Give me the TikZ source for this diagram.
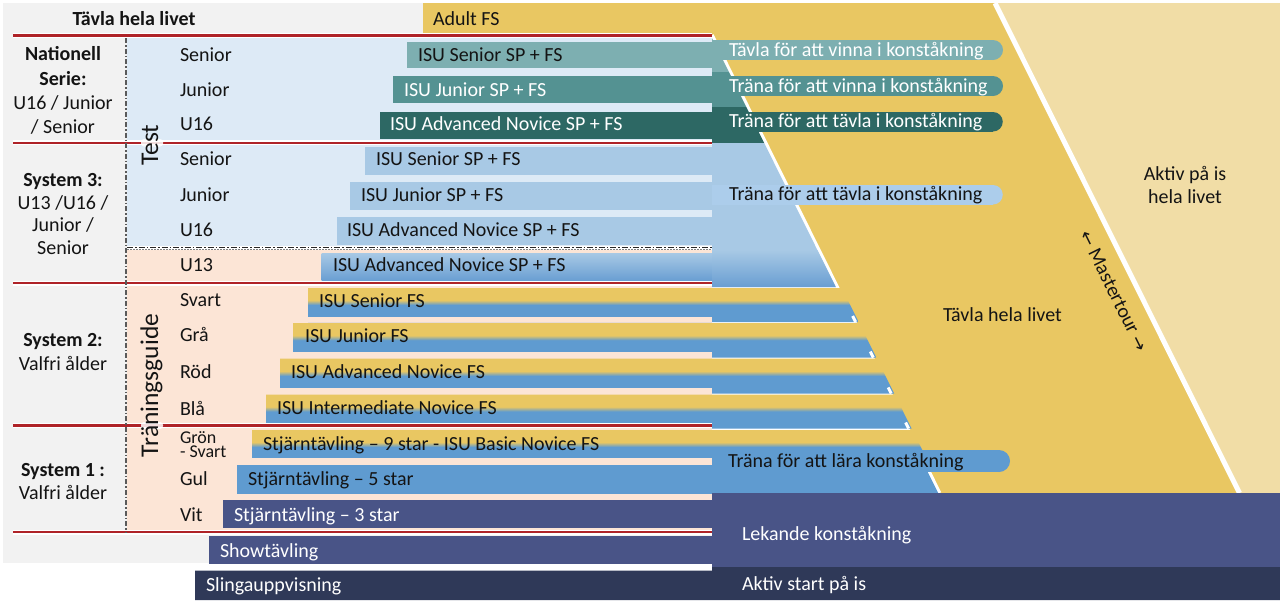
\documentclass[tikz,border=0pt]{standalone}
\usepackage{fontspec}
\setmainfont{Carlito}
\newfontfamily\arrowfont{DejaVu Sans}
\definecolor{cgold}{RGB}{233,199,98}
\definecolor{ctan}{RGB}{241,221,166}
\definecolor{cgray}{RGB}{242,242,242}
\definecolor{clbg}{RGB}{221,234,246}
\definecolor{cpeach}{RGB}{252,229,214}
\definecolor{cteala}{RGB}{125,175,177}
\definecolor{ctealb}{RGB}{84,146,146}
\definecolor{ctealc}{RGB}{45,104,100}
\definecolor{clb}{RGB}{168,201,229}
\definecolor{cpillb}{RGB}{172,205,235}
\definecolor{cblue}{RGB}{95,155,208}
\definecolor{cmb}{RGB}{105,158,210}
\definecolor{cnavy}{RGB}{73,84,135}
\definecolor{cdnavy}{RGB}{47,57,88}
\definecolor{cred}{RGB}{175,35,40}
\definecolor{cdash}{RGB}{90,90,90}
\definecolor{ctext}{RGB}{20,20,20}
\pgfdeclareverticalshading{goldblue}{100bp}{color(0bp)=(cblue); color(50bp)=(cblue); color(57bp)=(cgold); color(100bp)=(cgold)}
\newcommand\slx[1]{712+0.497*(#1-35)}
\begin{document}
\begin{tikzpicture}[x=1pt,y=-1pt,
  every node/.style={inner sep=0pt,outer sep=0pt,text=ctext},
  lbl/.style={font=\fontsize{20}{24}\selectfont, anchor=base west},
  lblw/.style={lbl, text=white},
  lblc/.style={font=\fontsize{20}{24}\selectfont, anchor=base},
  lblb/.style={font=\fontsize{20}{24}\selectfont\bfseries, anchor=base},
  lbls/.style={font=\fontsize{18}{20}\selectfont, anchor=base west},
  rotlbl/.style={font=\fontsize{25.5}{28}\selectfont, rotate=90, anchor=base}]
\useasboundingbox (0,0) rectangle (1280,600);
\fill[white] (0,0) rectangle (1280,600);
% panels
\fill[cgray] (3,3) rectangle (712,563);
\fill[ctan] (990,3) -- (1280,3) -- (1280,493) -- (1235,493) -- cycle;
\fill[cgold] (423,3) -- (995,3) -- (1239.5,493) -- ({\slx{493}},493) -- (712,35) -- (423,35) -- cycle;
\draw[white, line width=5pt] (995,3) -- (1239.5,493);
\fill[clbg] (127,37) rectangle (712,247.5);
\fill[cpeach] (127,248.5) rectangle (712,532);
\draw[white, line width=3.5pt] (712,35) -- ({\slx{493}},493);
% Nationell bars
\fill[cteala] (407,41.7) rectangle (712,68.3);
\fill[cteala] (712,38) -- ({\slx{38}-1.5},38) -- ({\slx{72}-1.5},72) -- (712,72) -- cycle;
\fill[ctealb] (393,76) rectangle (712,103.3);
\fill[ctealb] (712,72) -- ({\slx{72}-1.5},72) -- ({\slx{107}-1.5},107) -- (712,107) -- cycle;
\fill[ctealc] (380,111.7) rectangle (712,139.3);
\fill[ctealc] (712,107) -- ({\slx{107}-1.5},107) -- ({\slx{143}-1.5},143) -- (712,143) -- cycle;
% System 3 bars
\fill[clb] (365,146.7) rectangle (712,175);
\fill[clb] (350,181.7) rectangle (712,210);
\fill[clb] (336.7,217) rectangle (712,245);
\shade[top color=clb, bottom color=cmb] (321.7,253) rectangle (712,280.7);
\fill[clb] (712,143) -- ({\slx{143}-1.5},143) -- ({\slx{287}-1.5},287) -- (712,287) -- cycle;
\shade[top color=clb, bottom color=cmb] (712,250) -- ({\slx{250}-1.5},250) -- ({\slx{287}-1.5},287) -- (712,287) -- cycle;
% System 2 bars
\foreach \xl/\yt/\yb/\ybl in {308/288/322/317, 293/323/357.5/352, 280/358.5/393.5/387.5, 266/394.5/428.5/422.5} {
  \shade[shading=goldblue] (\xl,\yt) -- ({\slx{\yt}+4},\yt) -- ({\slx{\yb}+4},\yb) -- (\xl,\yb) -- cycle;
  \fill[cpeach] (\xl,\ybl) rectangle (712,\yb);
}
% System 1 bars
\shade[shading=goldblue] (252,430) -- ({\slx{430}+4},430) -- ({\slx{464}+4},464) -- (252,464) -- cycle;
\fill[cblue] (712,458) -- ({\slx{458}-1.5},458) -- ({\slx{493}-1.5},493) -- (712,493) -- cycle;
\fill[cpeach] (252,458) rectangle (712,465);
\fill[cblue] (237,465) rectangle (712,493.5);
% white ticks at bar ends
\foreach \yb in {322,357.5,393.5,428.5} {
  \draw[white, line width=3pt] ({\slx{\yb-6}+1},\yb-6) -- ({\slx{\yb}+1},\yb);
}
% navy parts
\fill[cnavy] (712,493) rectangle (1280,567);
\fill[cnavy] (223,500) rectangle (712,528);
\fill[cnavy] (209,535.5) rectangle (712,563.5);
\fill[cdnavy] (195,570.5) -- (712,570.5) -- (712,567) -- (1280,567) -- (1280,600) -- (195,600) -- cycle;
% pills
\fill[cteala] (712,40) rectangle (993,60);
\fill[cteala] (993,50) circle[radius=10pt];
\fill[ctealb] (712,76) rectangle (993,96);
\fill[ctealb] (993,86) circle[radius=10pt];
\fill[ctealc] (712,112) rectangle (993,131.5);
\fill[ctealc] (993,121.75) circle[radius=9.75pt];
\fill[cpillb] (712,185) rectangle (993,204.5);
\fill[cpillb] (993,194.75) circle[radius=9.75pt];
\fill[cblue] (712,450) rectangle (999,472);
\fill[cblue] (999,461) circle[radius=11pt];
% red lines
\foreach \yy in {35.5,142.8,283.3,425.5,532} {
  \draw[white, line width=5pt] (13,\yy) -- (712,\yy);
  \draw[cred, line width=2.2pt] (13,\yy) -- (712,\yy);
}
% glow where the rotated labels cross the red lines
\fill[white, rounded corners=3pt, opacity=0.85] (141,139) rectangle (163,146.5);
\fill[white, rounded corners=3pt, opacity=0.85] (141,422) rectangle (163,429);
% dash-dot separators
\draw[cdash, line width=1.2pt, dash pattern=on 5pt off 2pt on 1.5pt off 2pt] (126,38) -- (126,532);
\draw[white, line width=3.5pt] (127,248) -- (712,248);
\draw[black!85, line width=0.9pt, dash pattern=on 6pt off 2pt on 1.5pt off 2pt] (127,247) -- (712,247);
\draw[black!50, line width=0.7pt, dash pattern=on 1.5pt off 1.5pt] (127,249.3) -- (712,249.3);
% left column
\node[lblb] (tvl) at (134,25) {Tävla hela livet};
\node[lblb] (nat1) at (63,60) {Nationell};
\node[lblb] (nat2) at (63,85) {Serie:};
\node[lblc] (nat3) at (63,109.5) {U16 / Junior};
\node[lblc] (nat4) at (63,133) {/ Senior};
\node[lblb] (s3a) at (63,186) {System 3:};
\node[lblc] (s3b) at (63,209) {U13 /U16 /};
\node[lblc] (s3c) at (63,231.5) {Junior /};
\node[lblc] (s3d) at (63,254) {Senior};
\node[lblb] (s2a) at (63,346) {System 2:};
\node[lblc] (s2b) at (63,370) {Valfri ålder};
\node[lblb] (s1a) at (63,476) {System 1 :};
\node[lblc] (s1b) at (63,499) {Valfri ålder};
% rotated labels
\node[rotlbl] (test) at (158,145) {Test};
\node[rotlbl] (guide) at (158,385.5) {Träningsguide};
% level labels
\node[lbl] (l1) at (180,61.5) {Senior};
\node[lbl] (l2) at (180,96.7) {Junior};
\node[lbl] (l3) at (180,130) {U16};
\node[lbl] (l4) at (180,165) {Senior};
\node[lbl] (l5) at (180,201.5) {Junior};
\node[lbl] (l6) at (180,236.7) {U16};
\node[lbl] (l7) at (180,271.7) {U13};
\node[lbl] (l8) at (180,306.7) {Svart};
\node[lbl] (l9) at (180,341.7) {Grå};
\node[lbl] (l10) at (180,378.3) {Röd};
\node[lbl] (l11) at (180,415) {Blå};
\node[lbls] (l12) at (180,443.3) {Grön};
\node[lbls] (l13) at (180,457) {- Svart};
\node[lbl] (l14) at (180,485) {Gul};
\node[lbl] (l15) at (180,521.7) {Vit};
% bar texts
\node[lbl] (b0) at (433,25) {Adult FS};
\node[lbl] (b1) at (418,61.5) {ISU Senior SP + FS};
\node[lblw] (b2) at (404,96.7) {ISU Junior SP + FS};
\node[lblw] (b3) at (390,130) {ISU Advanced Novice SP + FS};
\node[lbl] (b4) at (376,165) {ISU Senior SP + FS};
\node[lbl] (b5) at (361,201.5) {ISU Junior SP + FS};
\node[lbl] (b6) at (347,236.7) {ISU Advanced Novice SP + FS};
\node[lbl] (b7) at (333,271.7) {ISU Advanced Novice SP + FS};
\node[lbl] (b8) at (319,307.5) {ISU Senior FS};
\node[lbl] (b9) at (305,342.5) {ISU Junior FS};
\node[lbl] (b10) at (291,378.3) {ISU Advanced Novice FS};
\node[lbl] (b11) at (277,414) {ISU Intermediate Novice FS};
\node[lbl] (b12) at (263,450) {Stjärntävling – 9 star - ISU Basic Novice FS};
\node[lbl] (b13) at (248,485.5) {Stjärntävling – 5 star};
\node[lblw] (b14) at (234,521.7) {Stjärntävling – 3 star};
\node[lblw] (b15) at (220,557.5) {Showtävling};
\node[lblw] (b16) at (206,591) {Slingauppvisning};
% pill texts
\node[lblw] (p1) at (729,56.5) {Tävla för att vinna i konståkning};
\node[lblw] (p2) at (729,92) {Träna för att vinna i konståkning};
\node[lblw] (p3) at (729,127) {Träna för att tävla i konståkning};
\node[lbl] (p4) at (729,200) {Träna för att tävla i konståkning};
\node[lbl] (p5) at (728,467) {Träna för att lära konståkning};
% right texts
\node[lblw] (lek) at (742,540) {Lekande konståkning};
\node[lblw] (akt) at (742,590) {Aktiv start på is};
\node[lbl] (thl) at (943,321.7) {Tävla hela livet};
\node[lblc] (ap1) at (1185,180) {Aktiv på is};
\node[lblc] (ap2) at (1185,203.3) {hela livet};
\node[font=\fontsize{20}{22}\selectfont, rotate=-63.7] (mt) at (1114,291)
  {{\arrowfont\fontsize{18}{20}\selectfont ←} Mastertour {\arrowfont\fontsize{18}{20}\selectfont →}};
\end{tikzpicture}
\end{document}
